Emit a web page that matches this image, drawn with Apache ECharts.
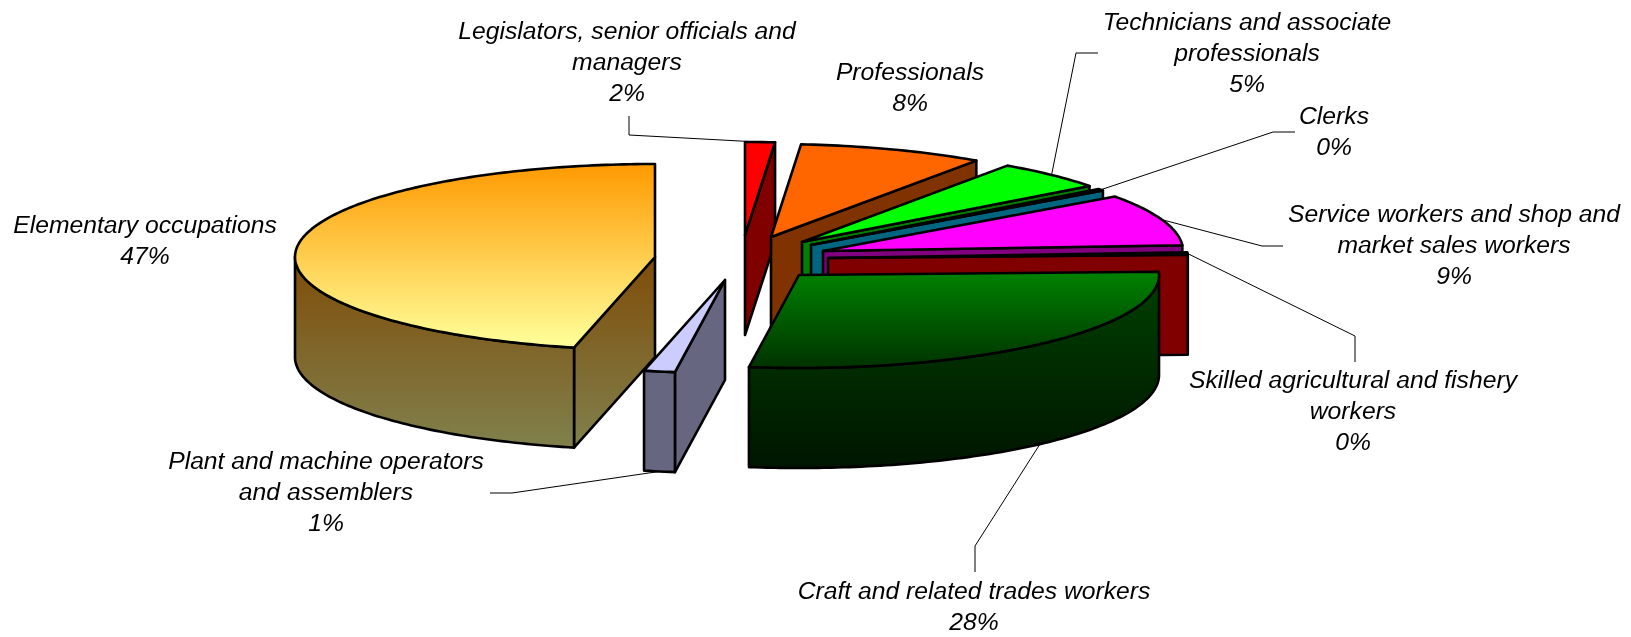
<!DOCTYPE html>
<html>
<head>
<meta charset="utf-8">
<title>Occupations</title>
<script src="https://cdn.jsdelivr.net/npm/echarts@6/dist/echarts.min.js"></script>
<style>
  html, body { margin: 0; padding: 0; background: #fff; }
  #chart { width: 1631px; height: 637px; }
</style>
</head>
<body>
<div id="chart"></div>
<script>
// data
const categories = [
  'Legislators, senior officials and\nmanagers',
  'Professionals',
  'Technicians and associate\nprofessionals',
  'Clerks',
  'Service workers and shop and\nmarket sales workers',
  'Skilled agricultural and fishery\nworkers',
  'Craft and related trades workers',
  'Plant and machine operators\nand assemblers',
  'Elementary occupations'
];
const shareValues = [1.33, 8.33, 5.06, 0.33, 8.97, 0.42, 27.78, 1.39, 46.39];
const shareLabels = ['2%', '8%', '5%', '0%', '9%', '0%', '28%', '1%', '47%'];

// pie look: tilted ellipse, extruded downwards, each slice pulled out by hand
const PIE = { cx: 740, cy: 260, rx: 360, ry: 93, depth: 100 };
const sliceLayout = [
  { dx: 5, dy: -25, top: '#FF0000', side: '#800000' },
  { dx: 31, dy: -23, top: '#FF6600', side: '#803300' },
  { dx: 62, dy: -18, top: '#00FF00', side: '#008000' },
  { dx: 71, dy: -15, top: '#00CCFF', side: '#006680' },
  { dx: 83, dy: -9, top: '#FF00FF', side: '#800080' },
  { dx: 88, dy: -2, top: '#FF0000', side: '#800000' },
  { dx: 59, dy: 15,
    top: [275, 367, '#008000', '#003300'],
    side: [275, 468, '#004000', '#001500'] },
  { dx: -15, dy: 20, top: '#CCCCFF', side: '#666680' },
  { dx: -85, dy: -3,
    top: [163, 345, '#FF9900', '#FFFF99'],
    side: [255, 446, '#7F4C08', '#80804C'] }
];

// label centre + leader elbows (leader start is computed from the slice)
const labelLayout = [
  { x: 627, y: 63, elbows: [[629, 135], [629, 116]] },
  { x: 910, y: 89 },
  { x: 1247, y: 54, elbows: [[1076, 53], [1098, 53]] },
  { x: 1334, y: 133, elbows: [[1273, 132], [1295, 132]] },
  { x: 1454, y: 246, elbows: [[1262, 246], [1283, 246]] },
  { x: 1353, y: 412, elbows: [[1355, 336], [1355, 362]] },
  { x: 974, y: 608, bottom: true, elbows: [[975, 546], [975, 572]] },
  { x: 326, y: 493, bottom: true, elbows: [[512, 493], [490, 493]] },
  { x: 145, y: 242 }
];

const total = shareValues.reduce((a, b) => a + b, 0);

// start / end angle of every slice in degrees, clockwise from 12 o'clock
const sliceAngles = [];
let acc = 0;
shareValues.forEach(v => {
  const from = acc / total * 360;
  acc += v;
  sliceAngles.push([from, acc / total * 360]);
});

const rimPoint = (i, deg, drop) => {
  const t = deg * Math.PI / 180;
  return [
    PIE.cx + sliceLayout[i].dx + PIE.rx * Math.sin(t),
    PIE.cy + sliceLayout[i].dy - PIE.ry * Math.cos(t) + (drop || 0)
  ];
};

const apexPoint = (i, drop) => [
  PIE.cx + sliceLayout[i].dx,
  PIE.cy + sliceLayout[i].dy + (drop || 0)
];

const arcPoints = (i, from, to, drop) => {
  const pts = [];
  const n = Math.max(1, Math.ceil(to - from));
  for (let k = 0; k <= n; k++) {
    pts.push(rimPoint(i, from + (to - from) * k / n, drop));
  }
  return pts;
};

const toFill = c => Array.isArray(c)
  ? {
      type: 'linear', global: true, x: 0, y: c[0], x2: 0, y2: c[1],
      colorStops: [{ offset: 0, color: c[2] }, { offset: 1, color: c[3] }]
    }
  : c;

const face = (points, fill) => ({
  type: 'polygon',
  shape: { points },
  style: { fill: toFill(fill), stroke: '#000', lineWidth: 2.6, lineJoin: 'round' }
});

const cutFace = (i, deg) => face([
  apexPoint(i), rimPoint(i, deg), rimPoint(i, deg, PIE.depth), apexPoint(i, PIE.depth)
], sliceLayout[i].side);

function renderSlice(params) {
  const i = params.dataIndex;
  const [from, to] = sliceAngles[i];
  const children = [];
  // only faces turned towards the viewer
  if (from > 180 && from < 360) children.push(cutFace(i, from));
  if (to > 0 && to < 180) children.push(cutFace(i, to));
  const wallFrom = Math.max(from, 90);
  const wallTo = Math.min(to, 270);
  if (wallTo > wallFrom) {
    children.push(face(
      arcPoints(i, wallFrom, wallTo).concat(arcPoints(i, wallFrom, wallTo, PIE.depth).reverse()),
      sliceLayout[i].side
    ));
  }
  children.push(face([apexPoint(i)].concat(arcPoints(i, from, to)), sliceLayout[i].top));
  return { type: 'group', children };
}

function renderLeader(params) {
  const i = params.dataIndex;
  const label = labelLayout[i];
  if (!label.elbows) return null;
  const mid = (sliceAngles[i][0] + sliceAngles[i][1]) / 2;
  return {
    type: 'polyline',
    shape: { points: [rimPoint(i, mid, label.bottom ? PIE.depth : 0)].concat(label.elbows) },
    style: { fill: null, stroke: '#000', lineWidth: 1 }
  };
}

function renderLabel(params) {
  const i = params.dataIndex;
  return {
    type: 'text',
    style: {
      x: labelLayout[i].x,
      y: labelLayout[i].y,
      text: categories[i] + '\n' + shareLabels[i],
      align: 'center',
      verticalAlign: 'middle',
      fill: '#000',
      font: 'italic 24.7px "Liberation Sans", Arial, sans-serif',
      lineHeight: 31
    }
  };
}

const chart = echarts.init(document.getElementById('chart'));
const seriesData = categories.map((name, i) => ({ name, value: [i, shareValues[i]] }));

chart.setOption({
  backgroundColor: '#fff',
  animation: false,
  series: [
    { type: 'custom', coordinateSystem: 'none', silent: true, z: 1, data: seriesData, renderItem: renderLeader },
    { type: 'custom', coordinateSystem: 'none', silent: true, z: 2, data: seriesData, renderItem: renderSlice },
    { type: 'custom', coordinateSystem: 'none', silent: true, z: 3, data: seriesData, renderItem: renderLabel }
  ]
});
</script>
</body>
</html>
